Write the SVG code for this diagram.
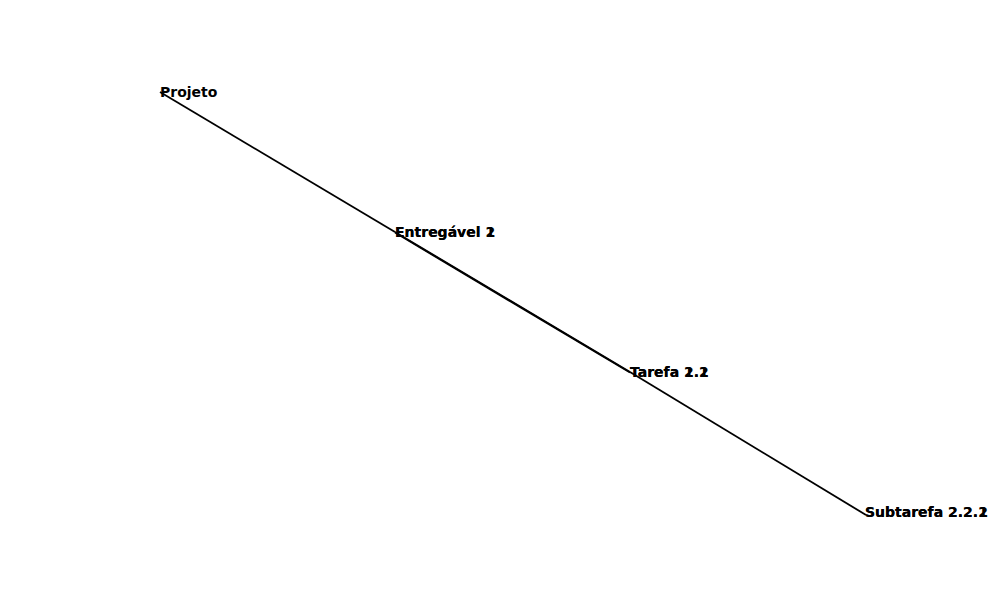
<svg xmlns="http://www.w3.org/2000/svg" width="1000" height="600" viewBox="0 0 1000 600">
<style>
.lbl{font-family:"DejaVu Sans","Liberation Sans",sans-serif;font-weight:bold;font-size:14px;fill:#000;dominant-baseline:middle}
.edge{stroke:#000;stroke-width:1.8;fill:none}
</style>
<rect width="1000" height="600" fill="#fff"/>
<g id="connectors">
<line class="edge" x1="160" y1="92" x2="395" y2="232"/>
<line class="edge" x1="395" y1="232" x2="630" y2="372"/>
<line class="edge" x1="395" y1="232.6" x2="630" y2="372.6"/>
<line class="edge" x1="630" y1="372" x2="866" y2="515"/>
</g>
<g id="projeto"><text class="lbl" x="160" y="93">Projeto</text></g>
<g id="entregavel1"><text class="lbl" x="395" y="233">Entregável 1</text></g>
<g id="entregavel2"><text class="lbl" x="395" y="233">Entregável 2</text></g>
<g id="tarefa11"><text class="lbl" x="630" y="373">Tarefa 1.1</text></g>
<g id="tarefa22"><text class="lbl" x="630" y="373">Tarefa 2.2</text></g>
<g id="subtarefa221"><text class="lbl" x="865" y="513">Subtarefa 2.2.1</text></g>
<g id="subtarefa222"><text class="lbl" x="865" y="513">Subtarefa 2.2.2</text></g>
</svg>
